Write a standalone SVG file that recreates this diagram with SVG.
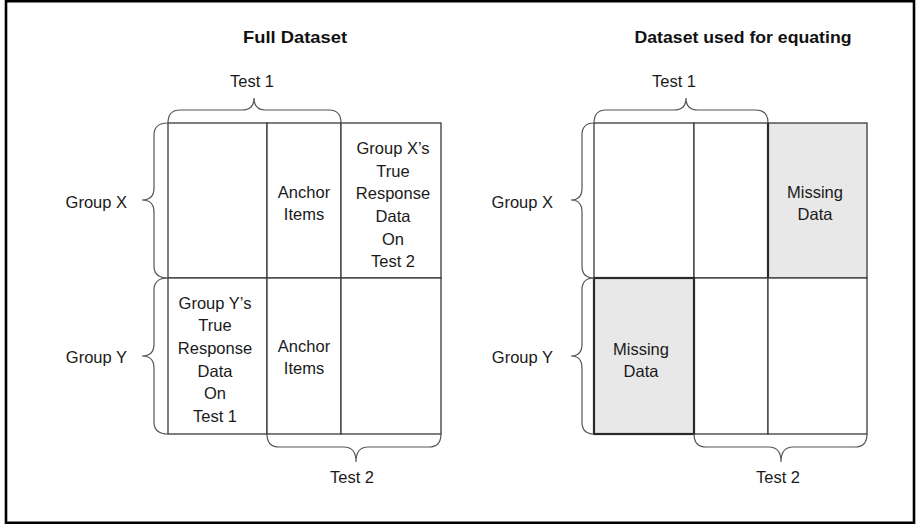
<svg xmlns="http://www.w3.org/2000/svg" width="916" height="524" viewBox="0 0 916 524">
<style>
.t{font-family:"Liberation Sans",Arial,sans-serif;font-size:16.5px;fill:#1a1a1a;text-anchor:middle}
.h{font-family:"Liberation Sans",Arial,sans-serif;font-size:17px;font-weight:bold;fill:#111;text-anchor:middle}
.r{text-anchor:end}
.cell{fill:#fff;stroke:#3a3a3a;stroke-width:1.3}
.miss{fill:#e8e8e8;stroke:#3a3a3a;stroke-width:1.3}
.thick{fill:none;stroke:#2a2a2a;stroke-width:2.2}
.br{fill:none;stroke:#555;stroke-width:1.2}
</style>
<rect x="6" y="1.2" width="908" height="521.6" fill="#fff" stroke="#000" stroke-width="2.6"/>

<g id="titles">
<text class="h" x="295" y="43" textLength="104" lengthAdjust="spacingAndGlyphs">Full Dataset</text>
<text class="h" x="743" y="43" textLength="217" lengthAdjust="spacingAndGlyphs">Dataset used for equating</text>
</g>

<!-- Left table: Full Dataset -->
<g id="full-x-test1"><rect class="cell" x="168" y="123" width="99" height="155"/></g>
<g id="full-x-anchor"><rect class="cell" x="267" y="123" width="74" height="155"/>
<text class="t" x="304" y="198">Anchor</text><text class="t" x="304" y="220">Items</text></g>
<g id="full-x-test2"><rect class="cell" x="341" y="123" width="100" height="155"/>
<text class="t" x="393" y="154">Group X’s</text>
<text class="t" x="393" y="176.7">True</text>
<text class="t" x="393" y="199.3">Response</text>
<text class="t" x="393" y="222">Data</text>
<text class="t" x="393" y="244.7">On</text>
<text class="t" x="393" y="267.3">Test 2</text></g>
<g id="full-y-test1"><rect class="cell" x="168" y="278" width="99" height="156"/>
<text class="t" x="215" y="308.5">Group Y’s</text>
<text class="t" x="215" y="331.2">True</text>
<text class="t" x="215" y="353.9">Response</text>
<text class="t" x="215" y="376.6">Data</text>
<text class="t" x="215" y="399.3">On</text>
<text class="t" x="215" y="422">Test 1</text></g>
<g id="full-y-anchor"><rect class="cell" x="267" y="278" width="74" height="156"/>
<text class="t" x="304" y="352">Anchor</text><text class="t" x="304" y="374">Items</text></g>
<g id="full-y-test2"><rect class="cell" x="341" y="278" width="100" height="156"/></g>

<!-- Right table: Dataset used for equating -->
<g id="eq-x-test1"><rect class="cell" x="594" y="123" width="100" height="155"/></g>
<g id="eq-x-anchor"><rect class="cell" x="694" y="123" width="74" height="155"/></g>
<g id="eq-x-missing"><rect class="miss" x="768" y="123" width="99" height="155"/>
<line class="thick" x1="768" y1="123" x2="768" y2="278"/>
<text class="t" x="815" y="198">Missing</text><text class="t" x="815" y="220">Data</text></g>
<g id="eq-y-anchor"><rect class="cell" x="694" y="278" width="74" height="156"/></g>
<g id="eq-y-test2"><rect class="cell" x="768" y="278" width="99" height="156"/></g>
<g id="eq-y-missing"><rect class="miss" x="594" y="278" width="100" height="156"/>
<rect class="thick" x="594" y="278" width="100" height="156"/>
<text class="t" x="641" y="355">Missing</text><text class="t" x="641" y="377">Data</text></g>

<!-- Labels -->
<g id="labels">
<text class="t" x="252" y="87">Test 1</text>
<text class="t r" x="127" y="208">Group X</text>
<text class="t r" x="127" y="363">Group Y</text>
<text class="t" x="352" y="483">Test 2</text>
<text class="t" x="674" y="87">Test 1</text>
<text class="t r" x="553" y="208">Group X</text>
<text class="t r" x="553" y="363">Group Y</text>
<text class="t" x="778" y="483">Test 2</text>
</g>

<!-- Braces -->
<g id="connectors">
<path class="br" d="M168,123 Q168,110 180,110 L242,110 Q254,110 254,98 Q254,110 266,110 L329,110 Q341,110 341,123"/>
<path class="br" d="M168,123 Q154,123 154,135 L154,188 Q154,200 142,200 Q154,200 154,212 L154,266 Q154,278 168,278"/>
<path class="br" d="M168,278 Q154,278 154,290 L154,344 Q154,356 142,356 Q154,356 154,368 L154,422 Q154,434 168,434"/>
<path class="br" d="M267,434 Q267,447 279,447 L344,447 Q356,447 356,462 Q356,447 368,447 L429,447 Q441,447 441,434"/>
<path class="br" d="M594,123 Q594,110 606,110 L674,110 Q686,110 686,98 Q686,110 698,110 L756,110 Q768,110 768,123"/>
<path class="br" d="M594,123 Q582,123 582,135 L582,188 Q582,200 571,200 Q582,200 582,212 L582,266 Q582,278 594,278"/>
<path class="br" d="M594,278 Q582,278 582,290 L582,344 Q582,356 571,356 Q582,356 582,368 L582,422 Q582,434 594,434"/>
<path class="br" d="M694,434 Q694,447 706,447 L769,447 Q781,447 781,462 Q781,447 793,447 L855,447 Q867,447 867,434"/>
</g>
</svg>
